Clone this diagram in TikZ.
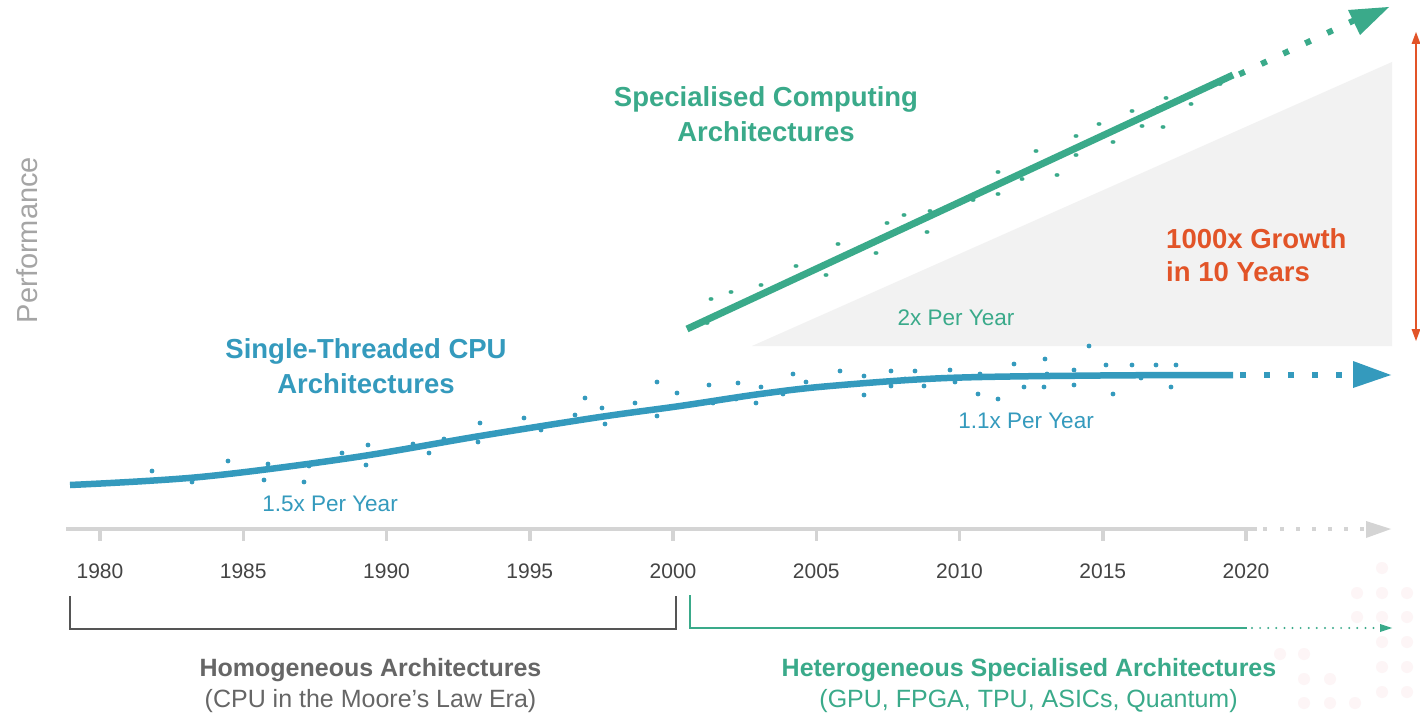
\documentclass[tikz,border=0pt]{standalone}
\usepackage{fontspec}
\setmainfont{Liberation Sans}
\definecolor{cblue}{RGB}{52,154,189}
\definecolor{cgreen}{RGB}{58,170,138}
\definecolor{cred}{RGB}{226,84,40}
\definecolor{ctri}{RGB}{242,242,242}
\definecolor{caxis}{RGB}{212,212,212}
\definecolor{cyear}{RGB}{68,68,68}
\definecolor{cgraytext}{RGB}{102,102,102}
\definecolor{cperf}{RGB}{165,165,165}
\definecolor{cbracket}{RGB}{85,85,85}
\definecolor{cpink}{RGB}{253,245,246}
\begin{document}
\begin{tikzpicture}[x=1pt,y=-1pt,
  lbl/.style={inner sep=0pt, anchor=base},
  ttl/.style={lbl, font=\fontsize{27.5}{33}\selectfont\bfseries},
  yr/.style={lbl, text=cyear, font=\fontsize{21}{25}\selectfont},
  rate/.style={lbl, font=\fontsize{22.5}{27}\selectfont},
  sub/.style={lbl, font=\fontsize{25}{30}\selectfont},
  subb/.style={lbl, font=\fontsize{25}{30}\selectfont\bfseries}]
\useasboundingbox (0,0) rectangle (1420,714);
\fill[white] (0,0) rectangle (1420,714);
% faint decorative dots
\foreach \x/\y in {1382/568,1357/593,1382/593,1407/593,1357/617,1382/617,1407/617,1382/642,1407/642,1280/654,1304/654,1304/679,1330/679,1382/667,1407/667,1382/692,1407/692,1304/703,1330/703,1355/703}
  \fill[cpink] (\x,\y) circle (6);
% grey triangle
\coordinate (t1) at (752,346); \coordinate (t2) at (1392,346); \coordinate (t3) at (1392,62);
\fill[ctri] (t1) -- (t2) -- (t3) -- cycle;
% Performance
\node[inner sep=0pt, rotate=90, text=cperf, font=\fontsize{29}{34}\selectfont] (perf) at (27,240) {Performance};
% axis
\coordinate (ax0) at (66,529); \coordinate (ax1) at (1257,529);
\draw[caxis, line width=4.3pt] (ax0) -- (ax1);
\foreach \x in {1265,1282,1298,1314,1330,1346,1362}
  \fill[caxis] (\x-2,527) rectangle (\x+2,531);
\fill[caxis] (1366,521) -- (1391,529) -- (1366,538) -- cycle;
\foreach \yr [count=\i from 0] in {1980,1985,1990,1995,2000,2005,2010,2015,2020} {
  \draw[caxis, line width=3.5pt] (100+143.25*\i,529) -- (100+143.25*\i,541);
  \node[yr] (y\yr) at (100+143.25*\i,578) {\yr};
}
% blue curve
\draw[cblue, line width=6.5pt] plot[smooth, tension=0.55] coordinates {(70,485) (200,477) (350,458) (480,436) (600,417) (680,406) (760,394) (830,386) (947,378) (1100,375.5) (1233,375)};
\foreach \x in {1243,1267,1291,1315,1339}
  \fill[cblue] (\x-3,372) rectangle (\x+3,378);
\fill[cblue] (1353,361) -- (1391,375) -- (1353,388) -- cycle;
\foreach \x/\y in {152/471,192/482,228/461,268/464,264/480,304/482,309/466,342/453,368/445,366/465,413/444,429/453,444/439,478/442,480/423,524/418,541/430,575/415,585/398,602/408,605/424,635/403,657/382,657/416,677/393,709/385,713/403,738/383,736/399,756/403,761/387,783/394,793/374,806/382,840/371,864/376,864/395,891/371,891/386,905/379,915/371,924/386,950/370,955/382,980/374,978/394,998/399,1014/364,1024/387,1045/359,1044/387,1047/374,1074/370,1074/385,1089/346,1106/365,1113/394,1132/365,1141/378,1156/365,1171/387,1176/365}
  \fill[cblue] (\x,\y) circle (2.4);
% green line
\coordinate (g0) at (687,329); \coordinate (g1) at (1233,75);
\draw[cgreen, line width=7pt] (g0) -- (g1);
\coordinate (gs0) at (1239.3,74.3); \coordinate (gs1) at (1357,19);
\draw[cgreen, line width=6pt, dash pattern=on 6pt off 18.3pt] (gs0) -- (gs1);
\fill[cgreen] (1348,10) -- (1389,7) -- (1360,35) -- cycle;
\foreach \x/\y in {707/323,711/299,731/292,761/285,796/266,826/275,838/244,876/253,887/223,904/215,930/211,927/232,973/200,998/172,998/194,1022/179,1036/151,1057/175,1076/136,1076/155,1099/124,1113/142,1132/111,1142/126,1158/108,1166/98,1163/127,1191/104,1220/84}
  \fill[cgreen] (\x,\y) ellipse (2.5 and 1.9);
% red arrow
\coordinate (r0) at (1416,43); \coordinate (r1) at (1416,330);
\draw[cred, line width=2.5pt] (r0) -- (r1);
\fill[cred] (1416,32) -- (1420.5,44) -- (1411.5,44) -- cycle;
\fill[cred] (1416,341) -- (1420.5,329) -- (1411.5,329) -- cycle;
% titles
\node[ttl, text=cgreen] (st1) at (766,107) {Specialised Computing};
\node[ttl, text=cgreen] (st2) at (766,142) {Architectures};
\node[ttl, text=cblue] (ct1) at (366,358) {Single-Threaded CPU};
\node[ttl, text=cblue] (ct2) at (366,393) {Architectures};
\node[ttl, text=cred, anchor=base west] (gr1) at (1166,248) {1000x Growth};
\node[ttl, text=cred, anchor=base west] (gr2) at (1166,281) {in 10 Years};
\node[rate, text=cgreen] (r2x) at (956,325) {2x Per Year};
\node[rate, text=cblue] (r11) at (1026,428) {1.1x Per Year};
\node[rate, text=cblue] (r15) at (330,511) {1.5x Per Year};
% brackets
\coordinate (b0) at (70,596); \coordinate (b1) at (70,629); \coordinate (b2) at (676,629); \coordinate (b3) at (676,596);
\draw[cbracket, line width=2pt] (b0) -- (b1) -- (b2) -- (b3);
\coordinate (h0) at (690,595); \coordinate (h1) at (690,628); \coordinate (h2) at (1247,628);
\draw[cgreen, line width=2pt] (h0) -- (h1) -- (h2);
\foreach \i in {0,...,15}
  \fill[cgreen] (1252+8.1*\i,628) circle (1.1);
\fill[cgreen] (1380,624) -- (1392,628) -- (1380,632) -- cycle;
% bottom labels
\node[subb, text=cgraytext] (hom1) at (370.5,676) {Homogeneous Architectures};
\node[sub, text=cgraytext] (hom2) at (370.5,707) {(CPU in the Moore’s Law Era)};
\node[subb, text=cgreen] (het1) at (1029,676) {Heterogeneous Specialised Architectures};
\node[sub, text=cgreen] (het2) at (1028.5,707) {(GPU, FPGA, TPU, ASICs, Quantum)};
\end{tikzpicture}
\end{document}
